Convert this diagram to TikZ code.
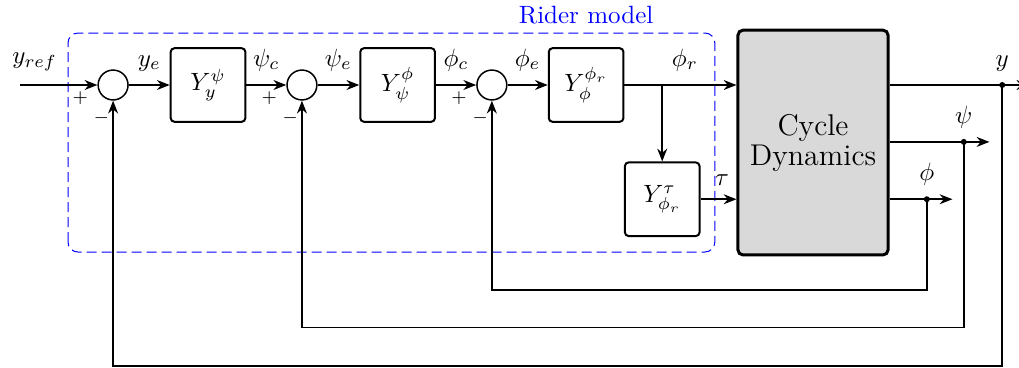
\documentclass[tikz,border=0pt]{standalone}
\usepackage{amsmath,amssymb}
\usepackage{tikz}
\usetikzlibrary{
  arrows.meta,
  positioning,
  calc
}
\definecolor{riderblue}{RGB}{0,0,255}
\definecolor{plantgray}{RGB}{217,217,217}
\tikzset{
  sumnode/.style={circle,draw,semithick,minimum size=4.2mm,inner sep=0pt},
  ctrlbox/.style={
    draw,
    thick,
    rounded corners=1.5pt,
    minimum width=10.5mm,
    minimum height=10.35mm,
    inner sep=2pt
  },
  plantbox/.style={
    draw,
    very thick,
    rounded corners=2pt,
    fill=plantgray,
    align=center,
    font=\large,
    minimum width=21.1mm,
    minimum height=31.6mm
  },
  sigarrow/.style={-{Stealth[length=1.8mm,width=1.4mm]},semithick},
  siglabel/.style={above=2pt},
  signlab/.style={font=\scriptsize,inner sep=0pt},
  riderframe/.style={draw=riderblue,dash pattern=on 4pt off 2pt,rounded corners=4pt}
}

\begin{document}
\begin{tikzpicture}[x=1cm,y=1cm]
  \useasboundingbox (0,-3.965) rectangle (14.326,1.195);

  % rider model
  \draw[riderframe] (0.956,-2.348) rectangle (10.05,0.731);
  \node[text=riderblue] (ridertitle) at (8.24,0.984) {Rider model};

  % controller chain
  \node[sumnode] (sum1) at (1.59,0) {};
  \node[ctrlbox] (yawctrl) at (2.925,0) {$Y_y^{\psi}$};
  \node[sumnode] (sum2) at (4.245,0) {};
  \node[ctrlbox] (headctrl) at (5.59,0) {$Y_{\psi}^{\phi}$};
  \node[sumnode] (sum3) at (6.915,0) {};
  \node[ctrlbox] (rollctrl) at (8.24,0) {$Y_{\phi}^{\phi_r}$};
  \node[ctrlbox] (tauctrl) at (9.31,-1.606) {$Y_{\phi_r}^{\tau}$};
  \node[plantbox] (plant) at (11.43,-0.809) {Cycle\\[-2pt]Dynamics};

  \foreach \s in {sum1,sum2,sum3} {
    \node[signlab] at ($(\s.west)+(-0.24,-0.18)$) {$+$};
    \node[signlab] at ($(\s.south)+(-0.165,-0.25)$) {$-$};
  }

  % forward path
  \coordinate (yin) at (0.28,0);
  \coordinate (phibr) at (9.31,0);
  \draw[sigarrow] (yin) -- node[siglabel,pos=0.19] {$y_{ref}$} (sum1.west);
  \draw[sigarrow] (sum1.east) -- node[siglabel] {$y_e$} (yawctrl.west);
  \draw[sigarrow] (yawctrl.east) -- node[siglabel] {$\psi_c$} (sum2.west);
  \draw[sigarrow] (sum2.east) -- node[siglabel] {$\psi_e$} (headctrl.west);
  \draw[sigarrow] (headctrl.east) -- node[siglabel] {$\phi_c$} (sum3.west);
  \draw[sigarrow] (sum3.east) -- node[siglabel] {$\phi_e$} (rollctrl.west);
  \draw[sigarrow] (rollctrl.east) -- node[siglabel,pos=0.54] {$\phi_r$} (rollctrl.east -| plant.west);
  \draw[sigarrow] (phibr) -- (tauctrl.north);
  \draw[sigarrow] (tauctrl.east) -- node[siglabel,pos=0.6] {$\tau$} (tauctrl.east -| plant.west);

  % outputs
  \coordinate (ydot) at (14.09,0);
  \coordinate (yend) at (14.47,0);
  \coordinate (psidot) at (13.55,-0.80);
  \coordinate (psiend) at (13.91,-0.80);
  \coordinate (phidot) at (13.03,-1.606);
  \coordinate (phiend) at (13.39,-1.606);
  \draw[sigarrow] (plant.east |- ydot) -- (yend);
  \draw[sigarrow] (plant.east |- psidot) -- (psiend);
  \draw[sigarrow] (plant.east |- phidot) -- (phiend);
  \foreach \d/\lab in {ydot/y,psidot/\psi,phidot/\phi} {
    \fill (\d) circle (1.2pt);
    \node[siglabel] at (\d) {$\lab$};
  }

  % feedback loops
  \draw[sigarrow] (phidot) -- ++(0,-1.274) -| (sum3.south);
  \draw[sigarrow] (psidot) -- ++(0,-2.61) -| (sum2.south);
  \draw[sigarrow] (ydot) -- ++(0,-3.947) -| (sum1.south);
\end{tikzpicture}
\end{document}
